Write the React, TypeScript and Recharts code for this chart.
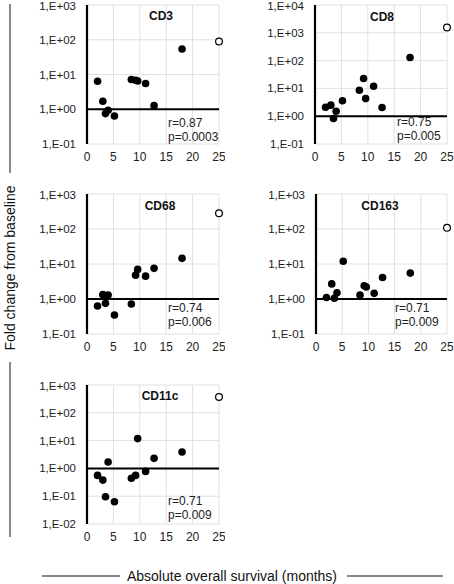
import { ScatterChart, Scatter, XAxis, YAxis, CartesianGrid, ReferenceLine } from 'recharts'

// survival in months (same patients in every panel), last one is the open circle
const months = [2, 3, 3.5, 4, 5.2, 8.4, 9.2, 9.6, 11.1, 12.7, 18, 25]

const cd3 = [6.4, 1.7, 0.75, 0.93, 0.64, 7.2, 6.8, 6.5, 5.5, 1.27, 54, 89]
const cd8 = [2.1, 2.5, 0.83, 1.5, 3.6, 8.6, 22.6, 4.3, 12, 2.05, 129, 1550]
const cd68 = [0.63, 1.33, 0.75, 1.3, 0.35, 0.72, 4.8, 7.0, 4.5, 7.5, 14.5, 282]
const cd163 = [1.1, 2.7, 1.05, 1.5, 12, 1.3, 2.4, 2.2, 1.45, 4.1, 5.5, 109]
const cd11c = [0.56, 0.38, 0.095, 1.7, 0.063, 0.44, 0.56, 11.8, 0.78, 2.3, 3.9, 370]

const xTicks = [0, 5, 10, 15, 20, 25]
const ticks3 = [0.1, 1, 10, 100, 1000]
const ticks4 = [0.1, 1, 10, 100, 1000, 10000]
const ticks3low = [0.01, 0.1, 1, 10, 100, 1000]

const FONT = '"Liberation Sans", Arial, sans-serif'

const sci = (v: number) => {
  const e = Math.round(Math.log10(v))
  return `1,E${e < 0 ? '-' : '+'}${String(Math.abs(e)).padStart(2, '0')}`
}

interface PanelProps {
  title: string
  values: number[]
  yTicks: number[]
  r: string
  p: string
  left: number
  top: number
  width: number
  height: number
  yWidth: number
  right: number
  titleX: number
  titleY: number
  statX: number
  statY: number
}

function Panel(props: PanelProps) {
  const { title, values, yTicks, r, p, left, top, width, height, yWidth, right, titleX, titleY, statX, statY } = props
  const filled = values.slice(0, -1).map((v, i) => ({ x: months[i], y: v }))
  const open = [{ x: months[months.length - 1], y: values[values.length - 1] }]
  return (
    <>
      <div style={{ position: 'absolute', left, top }}>
        <ScatterChart width={width} height={height} margin={{ top: 5, right, left: 0, bottom: 0 }}>
          <CartesianGrid stroke="#e0e0e0" strokeWidth={1} />
          <XAxis
            type="number"
            dataKey="x"
            domain={[0, 25]}
            ticks={xTicks}
            axisLine={false}
            tickLine={false}
            tickSize={0}
            tickMargin={8}
            height={21}
            tick={{ fill: '#222', fontSize: 12, fontFamily: FONT }}
          />
          <YAxis
            type="number"
            dataKey="y"
            scale="log"
            domain={[yTicks[0], yTicks[yTicks.length - 1]]}
            ticks={yTicks}
            allowDataOverflow
            width={yWidth}
            axisLine={{ stroke: '#000', strokeWidth: 2.2 }}
            tickLine={false}
            tickSize={0}
            tickMargin={11}
            tickFormatter={sci}
            tick={{ fill: '#222', fontSize: 11.5, fontFamily: FONT }}
          />
          <ReferenceLine y={1} stroke="#000" strokeWidth={2} />
          <Scatter data={filled} fill="#000" isAnimationActive={false} shape={(s: any) => <circle cx={s.cx} cy={s.cy} r={3.8} fill="#000" />} />
          <Scatter data={open} fill="#fff" isAnimationActive={false} shape={(s: any) => <circle cx={s.cx} cy={s.cy} r={3.4} fill="#fff" stroke="#000" strokeWidth={1.2} />} />
        </ScatterChart>
      </div>
      <div style={{ position: 'absolute', left: titleX - 30, top: titleY - 7, width: 60, textAlign: 'center', fontFamily: FONT, fontWeight: 'bold', fontSize: 12, lineHeight: '14px', color: '#111' }}>
        {title}
      </div>
      <div style={{ position: 'absolute', left: statX, top: statY - 7, fontFamily: FONT, fontSize: 12, lineHeight: '13.5px', color: '#222', whiteSpace: 'nowrap' }}>
        <div>{r}</div>
        <div>{p}</div>
      </div>
    </>
  )
}

export default function App() {
  return (
    <div style={{ position: 'absolute', left: 0, top: 0, width: 454, height: 584, background: '#fff', overflow: 'hidden' }}>
      <Panel title="CD3" values={cd3} yTicks={ticks3} r="r=0.87" p="p=0.0003"
        left={0} top={0} width={225} height={165} yWidth={87} right={6}
        titleX={161} titleY={16} statX={168} statY={124} />
      <Panel title="CD8" values={cd8} yTicks={ticks4} r="r=0.75" p="p=0.005"
        left={225} top={0} width={229} height={165} yWidth={90} right={7}
        titleX={382} titleY={17} statX={397} statY={123} />
      <Panel title="CD68" values={cd68} yTicks={ticks3} r="r=0.74" p="p=0.006"
        left={0} top={189} width={225} height={166} yWidth={87} right={6}
        titleX={160} titleY={206} statX={168} statY={309} />
      <Panel title="CD163" values={cd163} yTicks={ticks3} r="r=0.71" p="p=0.009"
        left={225} top={189} width={229} height={166} yWidth={91} right={7}
        titleX={380} titleY={206} statX={395} statY={309} />
      <Panel title="CD11c" values={cd11c} yTicks={ticks3low} r="r=0.71" p="p=0.009"
        left={0} top={380} width={225} height={165} yWidth={87} right={6}
        titleX={160} titleY={396} statX={168} statY={502} />

      {/* y title with its two rules */}
      <div style={{ position: 'absolute', left: 9, top: 4, width: 1.5, height: 169, background: '#888' }} />
      <div style={{ position: 'absolute', left: 9, top: 362, width: 1.5, height: 175, background: '#888' }} />
      <div style={{ position: 'absolute', left: 10, top: 268, transform: 'translate(-50%, -50%) rotate(-90deg)', fontFamily: FONT, fontSize: 14, color: '#111', whiteSpace: 'nowrap' }}>
        Fold change from baseline
      </div>

      {/* x title with its two rules */}
      <div style={{ position: 'absolute', left: 42, top: 575, width: 78, height: 1.5, background: '#888' }} />
      <div style={{ position: 'absolute', left: 347, top: 575, width: 96, height: 1.5, background: '#888' }} />
      <div style={{ position: 'absolute', left: 232, top: 576, transform: 'translate(-50%, -50%)', fontFamily: FONT, fontSize: 14, color: '#111', whiteSpace: 'nowrap' }}>
        Absolute overall survival (months)
      </div>
    </div>
  )
}
